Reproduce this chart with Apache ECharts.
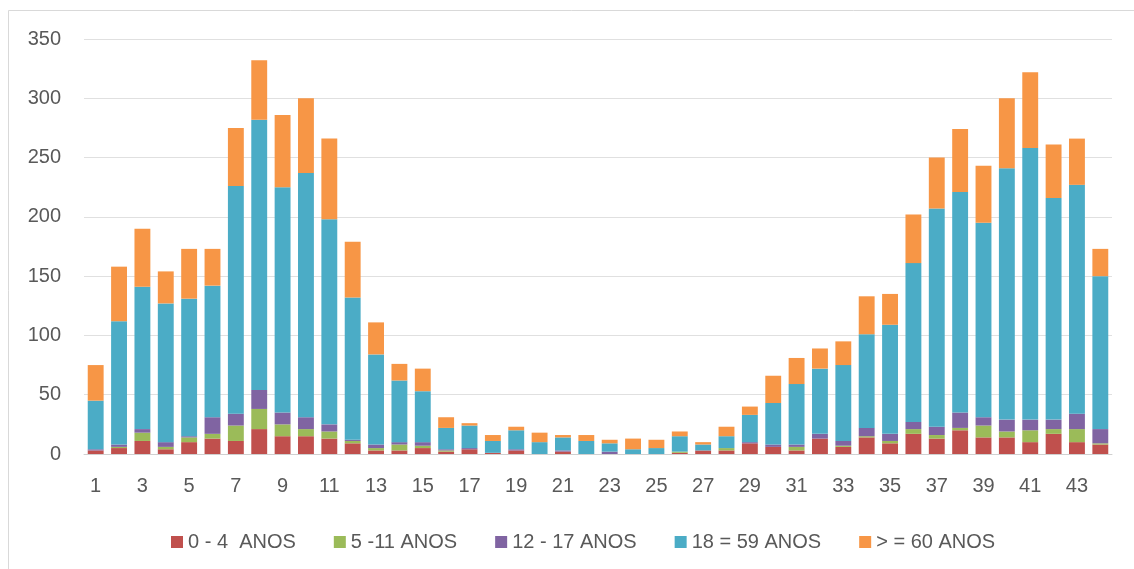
<!DOCTYPE html>
<html lang="pt">
<head>
    <meta charset="UTF-8">
    <title>Casos por faixa etária</title>
    <style>
        html, body {margin: 0; padding: 0; background: #fff;}
    </style>
</head>
<body>
<div id="chart" style="width: 1134px;height: 569px;"></div>
<script src="https://cdn.jsdelivr.net/npm/echarts@6/dist/echarts.min.js"></script>
<script>
    // semanas 1..44
    var categories = [];
    for (var i = 1; i <= 44; i++) {
        categories.push(String(i));
    }

    var seriesNames = ['0 - 4  ANOS', '5 -11 ANOS', '12 - 17 ANOS', '18 = 59 ANOS', '> = 60 ANOS'];

    var anos0a4 = [3, 5, 11, 4, 10, 13, 11, 21, 15, 15, 13, 9, 3, 3, 5, 2, 4, 1, 3, 0, 2, 0,
        0, 0, 0, 1, 3, 3, 9, 6, 3, 13, 6, 14, 9, 17, 13, 20, 14, 14, 10, 17, 10, 8];
    var anos5a11 = [0, 1, 7, 2, 4, 4, 13, 17, 10, 6, 6, 2, 2, 5, 2, 1, 0, 0, 0, 0, 0, 0,
        0, 0, 0, 1, 0, 2, 0, 0, 3, 0, 1, 1, 2, 4, 3, 2, 10, 5, 10, 4, 11, 1];
    var anos12a17 = [1, 2, 3, 4, 1, 14, 10, 16, 10, 10, 6, 1, 3, 2, 3, 1, 1, 0, 1, 0, 1, 0,
        2, 0, 0, 0, 0, 0, 1, 2, 2, 4, 4, 7, 6, 6, 7, 13, 7, 10, 9, 8, 13, 12];
    var anos18a59 = [41, 104, 120, 117, 116, 111, 192, 228, 190, 206, 173, 120, 76, 52, 43, 18, 19, 10, 16, 10, 11, 11,
        7, 4, 5, 13, 5, 10, 23, 35, 51, 55, 64, 79, 92, 134, 184, 186, 164, 212, 229, 187, 193, 129];
    var anos60mais = [30, 46, 49, 27, 42, 31, 49, 50, 61, 63, 68, 47, 27, 14, 19, 9, 2, 5, 3, 8, 2, 5,
        3, 9, 7, 4, 2, 8, 7, 23, 22, 17, 20, 32, 26, 41, 43, 53, 48, 59, 64, 45, 39, 23];

    var colors = ['#C0504D', '#9BBB59', '#8064A2', '#4BACC6', '#F79646'];
    var textColor = '#595959';
    var fontName = 'Liberation Sans';

    function showChart (option, elStr) {
        var chart = echarts.init(document.getElementById(elStr));
        chart.setOption(option);
    }

    function barSeries (name, data) {
        return {
            name: name,
            type: 'bar',
            stack: 'total',
            barCategoryGap: '32%',
            data: data,
            animation: false
        };
    }

    var option = {
        backgroundColor: '#fff',
        color: colors,
        textStyle: {fontFamily: fontName},
        graphic: [{
            type: 'rect',
            shape: {x: 8.5, y: 10.5, width: 1200, height: 700},
            style: {fill: 'none', stroke: '#d9d9d9', lineWidth: 1},
            silent: true
        }],
        legend: {
            data: seriesNames,
            left: 166,
            top: 527,
            icon: 'rect',
            itemWidth: 12,
            itemHeight: 12,
            itemGap: 38,
            textStyle: {color: textColor, fontSize: 20, fontFamily: fontName}
        },
        grid: {
            left: 84,
            right: 22,
            top: 39,
            bottom: 115
        },
        xAxis: {
            type: 'category',
            data: categories,
            axisLine: {lineStyle: {color: '#d0d0d0', width: 1}},
            axisTick: {show: false},
            axisLabel: {
                interval: 1,
                color: textColor,
                fontSize: 20,
                fontFamily: fontName,
                margin: 22
            }
        },
        yAxis: {
            type: 'value',
            min: 0,
            max: 350,
            interval: 50,
            axisLine: {show: false},
            axisTick: {show: false},
            splitLine: {lineStyle: {color: '#e0e0e0', width: 1}},
            axisLabel: {
                color: textColor,
                fontSize: 20,
                fontFamily: fontName,
                margin: 23
            }
        },
        series: [
            barSeries(seriesNames[0], anos0a4),
            barSeries(seriesNames[1], anos5a11),
            barSeries(seriesNames[2], anos12a17),
            barSeries(seriesNames[3], anos18a59),
            barSeries(seriesNames[4], anos60mais)
        ]
    };

    showChart(option, 'chart');
</script>
</body>
</html>
